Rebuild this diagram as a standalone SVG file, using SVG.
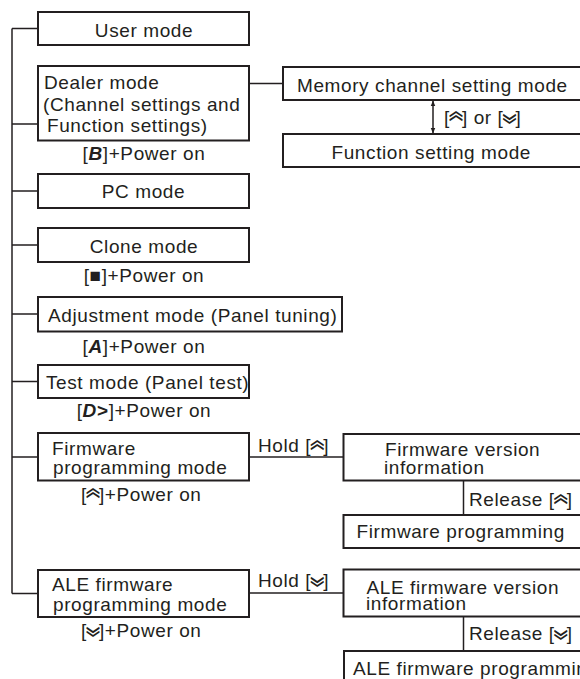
<svg xmlns="http://www.w3.org/2000/svg" width="580" height="679" viewBox="0 0 580 679">
<style>
.box{fill:#fff;stroke:#231f20;stroke-width:2}
.ln{fill:none;stroke:#231f20;stroke-width:1.5}
text{font-family:"Liberation Sans",Arial,sans-serif;font-size:19px;letter-spacing:0.6px;fill:#231f20}
.c{text-anchor:middle}
.b{font-weight:bold;font-style:italic}
text.chev{font-family:"Noto Sans CJK JP",sans-serif;font-size:14px;font-weight:bold;letter-spacing:0;text-anchor:middle}
</style>
<defs>
<marker id="ah" viewBox="0 0 10 10" refX="9" refY="5" markerWidth="6" markerHeight="7" orient="auto-start-reverse" markerUnits="userSpaceOnUse">
<path d="M0,1 L10,5 L0,9 z" fill="#231f20"/>
</marker>
</defs>
<g id="connectors">
<path class="ln" d="M12 28.5 V593.5"/>
<path class="ln" d="M12 28.5 H38 M12 124 H38 M12 191 H38 M12 245 H38 M12 314 H38 M12 381.5 H38 M12 457 H38 M12 593.5 H38"/>
<path class="ln" d="M249 83.5 H283"/>
<path class="ln" d="M433 101 V133" marker-start="url(#ah)" marker-end="url(#ah)"/>
<path class="ln" d="M249 457 H343.5"/>
<path class="ln" d="M249 593 H343.5"/>
<path class="ln" d="M463.5 480.5 V515"/>
<path class="ln" d="M463.5 617 V651"/>
<text x="444" y="123.5">[<tspan dx="12">] or [</tspan><tspan dx="12">]</tspan></text>
<text class="chev" transform="translate(455.9,119) scale(1,1.6)">︽</text>
<text class="chev" transform="translate(509.6,132.5) scale(1,1.6)">︾</text>
<text x="258" y="452">Hold [<tspan dx="12">]</tspan></text>
<text class="chev" transform="translate(317.2,447.5) scale(1,1.6)">︽</text>
<text x="258" y="587">Hold [<tspan dx="12">]</tspan></text>
<text class="chev" transform="translate(317.2,596) scale(1,1.6)">︾</text>
<text x="469" y="506">Release [<tspan dx="12">]</tspan></text>
<text class="chev" transform="translate(560.7,501.5) scale(1,1.6)">︽</text>
<text x="469" y="640">Release [<tspan dx="12">]</tspan></text>
<text class="chev" transform="translate(560.7,649) scale(1,1.6)">︾</text>
</g>
<g id="user">
<rect class="box" x="38" y="12" width="211" height="33"/>
<text class="c" x="144" y="37">User mode</text>
</g>
<g id="dealer">
<rect class="box" x="38" y="66" width="211" height="74.5"/>
<text x="44" y="89">Dealer mode</text>
<text x="43" y="110.5">(Channel settings and</text>
<text x="47" y="131.5">Function settings)</text>
<text class="c" x="144" y="160">[<tspan class="b">B</tspan>]+Power on</text>
</g>
<g id="pc">
<rect class="box" x="38" y="174" width="211" height="34"/>
<text class="c" x="143.5" y="198">PC mode</text>
</g>
<g id="clone">
<rect class="box" x="38" y="228" width="211" height="34"/>
<text class="c" x="144" y="253">Clone mode</text>
<text class="c" x="144" y="282">[■]+Power on</text>
</g>
<g id="adjust">
<rect class="box" x="38" y="297" width="304" height="34.5"/>
<text x="48" y="322">Adjustment mode (Panel tuning)</text>
<text class="c" x="144" y="353">[<tspan class="b">A</tspan>]+Power on</text>
</g>
<g id="test">
<rect class="box" x="38" y="365" width="211" height="33"/>
<text x="46" y="389">Test mode (Panel test)</text>
<text class="c" x="144" y="417">[<tspan class="b">D</tspan><tspan font-weight="bold">&gt;</tspan>]+Power on</text>
</g>
<g id="fw">
<rect class="box" x="38" y="433" width="211" height="47.5"/>
<text x="52" y="454.5">Firmware</text>
<text x="53" y="473.5">programming mode</text>
<text x="81" y="500.5">[<tspan dx="12">]+Power on</tspan></text>
<text class="chev" transform="translate(92.9,496) scale(1,1.6)">︽</text>
</g>
<g id="ale">
<rect class="box" x="38" y="570" width="211" height="47"/>
<text x="52" y="591">ALE firmware</text>
<text x="53" y="610.5">programming mode</text>
<text x="81" y="636.5">[<tspan dx="12">]+Power on</tspan></text>
<text class="chev" transform="translate(92.9,645.5) scale(1,1.6)">︾</text>
</g>
<g id="memory">
<rect class="box" x="283" y="67" width="300" height="33"/>
<text x="297" y="91.5">Memory channel setting mode</text>
</g>
<g id="function">
<rect class="box" x="283" y="134" width="300" height="33"/>
<text x="331.5" y="158.5">Function setting mode</text>
</g>
<g id="fwver">
<rect class="box" x="343.5" y="434" width="240" height="46.5"/>
<text x="385" y="455.5">Firmware version</text>
<text x="384" y="473.5">information</text>
</g>
<g id="fwprog">
<rect class="box" x="343.5" y="515" width="240" height="33"/>
<text x="356.5" y="538">Firmware programming</text>
</g>
<g id="alever">
<rect class="box" x="343.5" y="569.5" width="240" height="47"/>
<text x="366.5" y="593.5">ALE firmware version</text>
<text x="366" y="610">information</text>
</g>
<g id="aleprog">
<rect class="box" x="344" y="651" width="240" height="40"/>
<text x="353" y="674.5">ALE firmware programming</text>
</g>
</svg>
